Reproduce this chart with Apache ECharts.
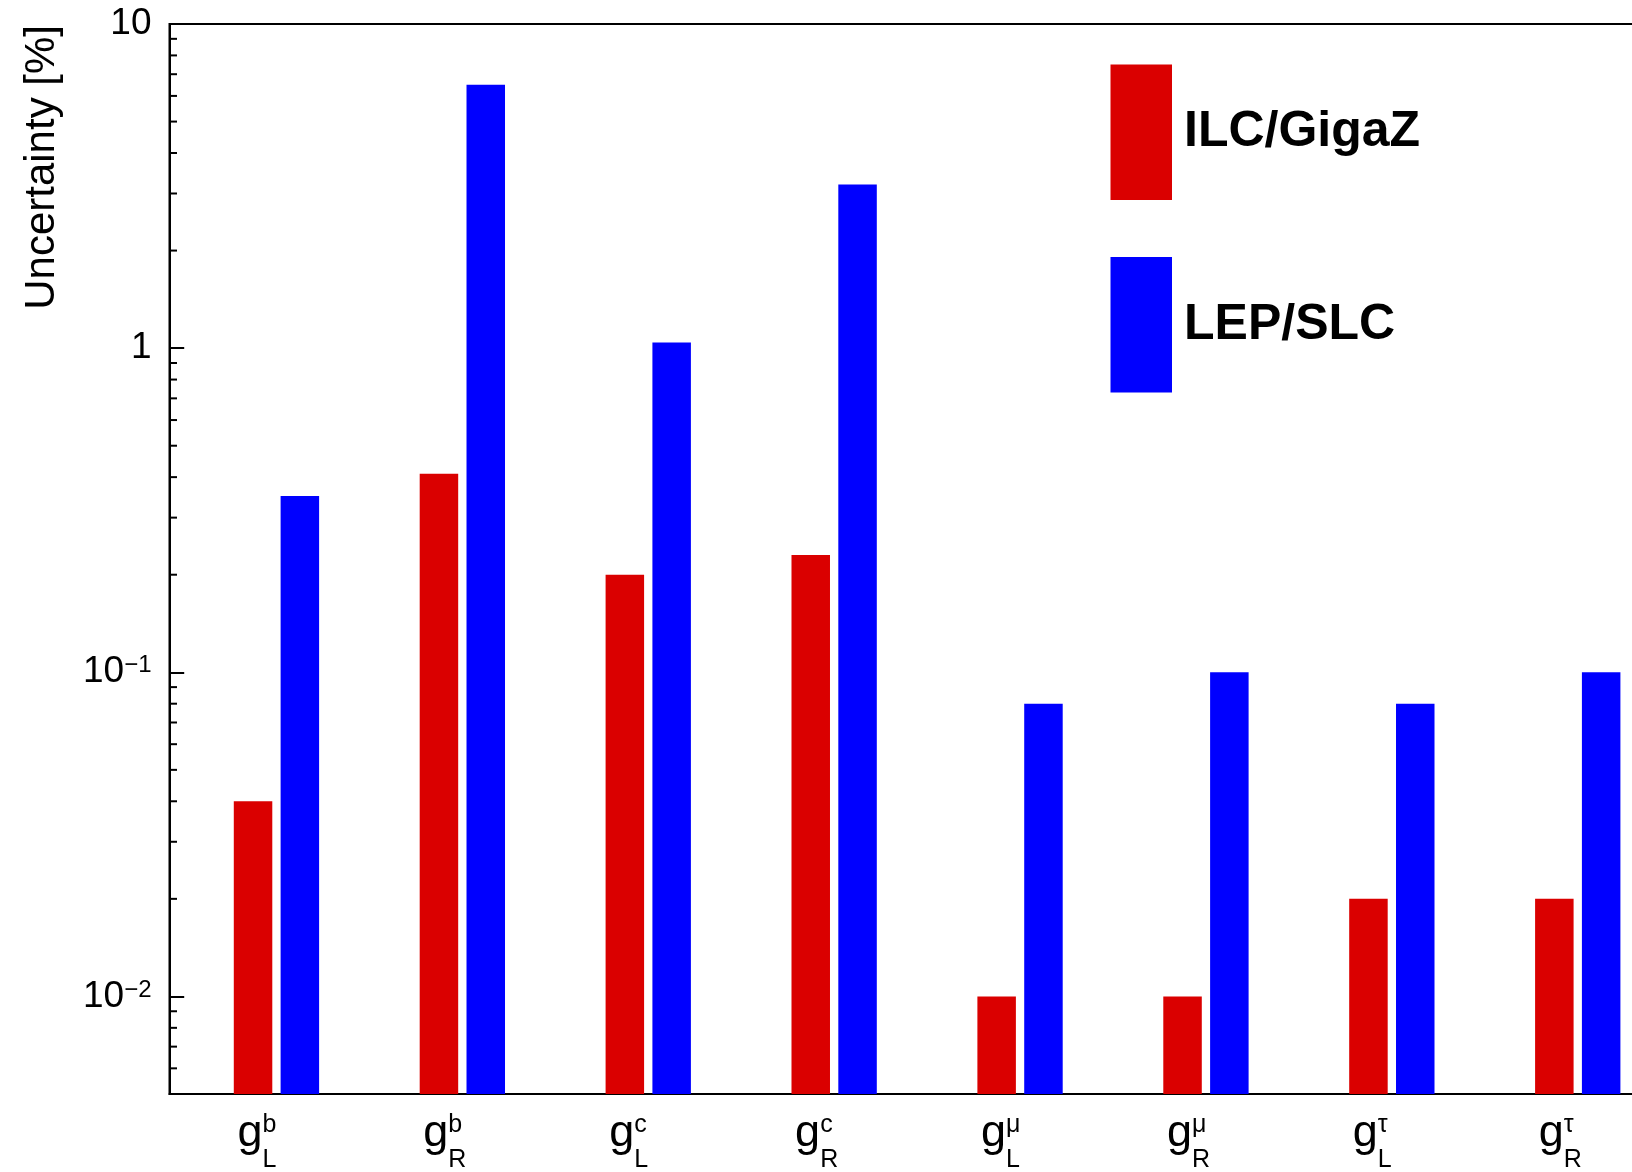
<!DOCTYPE html>
<html>
<head>
<meta charset="utf-8">
<script src="https://cdn.jsdelivr.net/npm/echarts@6/dist/echarts.min.js"></script>
<style>
  html, body { margin: 0; padding: 0; background: #fff; }
  #chart { width: 1632px; height: 1172px; }
</style>
</head>
<body>
<div id="chart"></div>
<script>
// Relative precision on the Z couplings to b, c, mu and tau (left / right handed)
const flavours   = ['b', 'b', 'c', 'c', 'μ', 'μ', 'τ', 'τ'];
const handedness = ['L', 'R', 'L', 'R', 'L', 'R', 'L', 'R'];
const categories = flavours.map((f, i) => 'g_' + handedness[i] + '^' + f);

const ilcGigaZ = [0.04, 0.41, 0.20, 0.23, 0.01, 0.01, 0.02, 0.02];
const lepSlc   = [0.35, 6.5, 1.04, 3.2, 0.08, 0.10, 0.08, 0.10];

const yMin = 0.005;
const yMax = 10;
// minor ticks of the logarithmic scale (2..9 of each decade)
const minorTickValues = [
  0.006, 0.007, 0.008, 0.009,
  0.02, 0.03, 0.04, 0.05, 0.06, 0.07, 0.08, 0.09,
  0.2, 0.3, 0.4, 0.5, 0.6, 0.7, 0.8, 0.9,
  2, 3, 4, 5, 6, 7, 8, 9
];

const FONT = '"Liberation Sans", Arial, Helvetica, sans-serif';
const RED = '#da0000';
const BLUE = '#0000ff';

const gridTop = 24;
const gridHeight = 1070;
const frameLeft = 169.5;
const binWidth = 185.9;
const frameWidth = binWidth * categories.length;   // the frame runs past the right edge

function splitCategory(c) {
  const m = c.match(/^g_(.)\^(.)$/);
  return { sub: m[1], sup: m[2] };
}

const chart = echarts.init(document.getElementById('chart'), null, { renderer: 'canvas' });

chart.setOption({
  animation: false,
  backgroundColor: '#fff',
  grid: [
    { left: frameLeft, top: gridTop, width: frameWidth, height: gridHeight,
      outerBoundsMode: 'none', containLabel: false,
      show: true, borderColor: '#000', borderWidth: 2, backgroundColor: 'transparent' },
    { left: frameLeft + 14, top: gridTop, width: frameWidth, height: gridHeight,
      outerBoundsMode: 'none', containLabel: false, show: false }
  ],
  legend: {
    data: ['ILC/GigaZ', 'LEP/SLC'],
    orient: 'vertical',
    left: 1110.5,
    top: 64.5,
    padding: 0,
    itemWidth: 61.5,
    itemHeight: 135.5,
    itemGap: 57,
    icon: 'rect',
    selectedMode: false,
    textStyle: { fontSize: 50, fontWeight: 'bold', fontFamily: FONT, color: '#000', padding: [0, 0, 0, 7] }
  },
  xAxis: [
    {
      gridIndex: 0, type: 'category', data: categories, position: 'bottom',
      boundaryGap: true,
      axisLine: { lineStyle: { color: '#000', width: 2 } },
      axisTick: { show: false },
      axisLabel: {
        interval: 0, align: 'right', margin: 17,
        formatter: () => '{g|g}',
        rich: { g: { fontSize: 45, lineHeight: 45, fontFamily: FONT, color: '#000' } }
      }
    },
    {
      gridIndex: 0, type: 'category', data: categories, position: 'bottom', offset: 0,
      axisLine: { show: false }, axisTick: { show: false },
      axisLabel: {
        interval: 0, align: 'left', margin: 14,
        formatter: (v) => { const p = splitCategory(v); return '{s|' + p.sup + '}\n{s|' + p.sub + '}'; },
        rich: { s: { fontSize: 25, lineHeight: 35, fontFamily: FONT, color: '#000' } }
      }
    },
    {
      gridIndex: 1, type: 'category', data: categories, show: false
    }
  ],
  yAxis: [
    {
      gridIndex: 0, type: 'log', logBase: 10, min: yMin, max: yMax,
      axisLine: { show: true, lineStyle: { color: '#000', width: 2 } },
      axisTick: { show: true, inside: true, length: 14.7, lineStyle: { color: '#000', width: 2 } },
      splitLine: { show: false },
      axisLabel: {
        margin: 18, showMinLabel: false, showMaxLabel: true,
        formatter: (v) => {
          const e = Math.round(Math.log10(v));
          if (e === 1) return '{b|10}';
          if (e === 0) return '{b|1}';
          return '{b|10}{s|−' + (-e) + '}';
        },
        rich: {
          b: { fontSize: 37, lineHeight: 37, fontFamily: FONT, color: '#000', verticalAlign: 'bottom' },
          s: { fontSize: 24, lineHeight: 24, fontFamily: FONT, color: '#000', verticalAlign: 'top' }
        }
      }
    },
    {
      gridIndex: 1, type: 'log', logBase: 10, min: yMin, max: yMax, startValue: yMin, show: false
    }
  ],
  graphic: [
    {
      type: 'text', x: 42, y: 25, rotation: Math.PI / 2,
      style: { text: 'Uncertainty [%]', font: '42px ' + FONT, fill: '#000', align: 'right', verticalAlign: 'middle' }
    }
  ],
  series: [
    {
      name: 'ILC/GigaZ', type: 'bar', xAxisIndex: 2, yAxisIndex: 1,
      data: ilcGigaZ, barWidth: 38.5, barGap: '21.6%',
      itemStyle: { color: RED }
    },
    {
      name: 'LEP/SLC', type: 'bar', xAxisIndex: 2, yAxisIndex: 1,
      data: lepSlc, barWidth: 38.5, barGap: '21.6%',
      itemStyle: { color: BLUE }
    },
    {
      type: 'custom', xAxisIndex: 0, yAxisIndex: 0, silent: true, clip: false,
      data: minorTickValues.map(v => [0, v]),
      encode: { x: 0, y: 1 },
      renderItem: (params, api) => {
        const y = api.coord([0, api.value(1)])[1];
        const x0 = params.coordSys.x;
        return {
          type: 'line',
          shape: { x1: x0, y1: y, x2: x0 + 7.5, y2: y },
          style: { stroke: '#000', lineWidth: 2 }
        };
      }
    }
  ]
});
</script>
</body>
</html>
